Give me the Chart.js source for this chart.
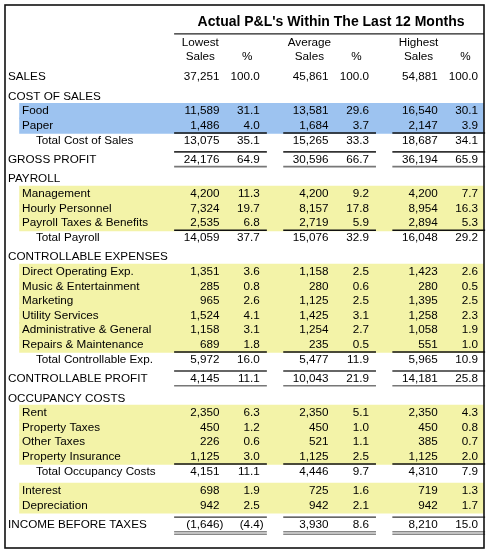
<!DOCTYPE html>
<html>
<head>
<meta charset="utf-8">
<title>Actual P&amp;L's Within The Last 12 Months</title>
<script src="https://cdn.jsdelivr.net/npm/chart.js@4.4.1/dist/chart.umd.min.js"></script>
<style>
  html, body { margin: 0; padding: 0; background: #fff; }
  #wrap { width: 491px; height: 555px; }
</style>
</head>
<body>
<div id="wrap"><canvas id="pl-table"></canvas></div>
<script>
var title = "Actual P&L's Within The Last 12 Months";
var groupNames = ['Lowest', 'Average', 'Highest'];
var colHeads = ['Sales', '%'];

var rowLabels = ['SALES', 'COST OF SALES', 'Food', 'Paper', 'Total Cost of Sales', 'GROSS PROFIT',
  'PAYROLL', 'Management', 'Hourly Personnel', 'Payroll Taxes & Benefits', 'Total Payroll',
  'CONTROLLABLE EXPENSES', 'Direct Operating Exp.', 'Music & Entertainment', 'Marketing',
  'Utility Services', 'Administrative & General', 'Repairs & Maintenance', 'Total Controllable Exp.',
  'CONTROLLABLE PROFIT', 'OCCUPANCY COSTS', 'Rent', 'Property Taxes', 'Other Taxes',
  'Property Insurance', 'Total Occupancy Costs', 'Interest', 'Depreciation', 'INCOME BEFORE TAXES'];
var rowKinds = ['line', 'section', 'item', 'item', 'total', 'profit',
  'section', 'item', 'item', 'item', 'total',
  'section', 'item', 'item', 'item', 'item', 'item', 'item', 'total',
  'profit', 'section', 'item', 'item', 'item', 'item', 'total', 'item', 'item', 'net'];

var lowestSales = [37251, null, 11589, 1486, 13075, 24176, null, 4200, 7324, 2535, 14059,
  null, 1351, 285, 965, 1524, 1158, 689, 5972, 4145, null, 2350, 450, 226, 1125, 4151, 698, 942, -1646];
var lowestPct = [100.0, null, 31.1, 4.0, 35.1, 64.9, null, 11.3, 19.7, 6.8, 37.7,
  null, 3.6, 0.8, 2.6, 4.1, 3.1, 1.8, 16.0, 11.1, null, 6.3, 1.2, 0.6, 3.0, 11.1, 1.9, 2.5, -4.4];
var averageSales = [45861, null, 13581, 1684, 15265, 30596, null, 4200, 8157, 2719, 15076,
  null, 1158, 280, 1125, 1425, 1254, 235, 5477, 10043, null, 2350, 450, 521, 1125, 4446, 725, 942, 3930];
var averagePct = [100.0, null, 29.6, 3.7, 33.3, 66.7, null, 9.2, 17.8, 5.9, 32.9,
  null, 2.5, 0.6, 2.5, 3.1, 2.7, 0.5, 11.9, 21.9, null, 5.1, 1.0, 1.1, 2.5, 9.7, 1.6, 2.1, 8.6];
var highestSales = [54881, null, 16540, 2147, 18687, 36194, null, 4200, 8954, 2894, 16048,
  null, 1423, 280, 1395, 1258, 1058, 551, 5965, 14181, null, 2350, 450, 385, 1125, 4310, 719, 942, 8210];
var highestPct = [100.0, null, 30.1, 3.9, 34.1, 65.9, null, 7.7, 16.3, 5.3, 29.2,
  null, 2.6, 0.5, 2.5, 2.3, 1.9, 1.0, 10.9, 25.8, null, 4.3, 0.8, 0.7, 2.0, 7.9, 1.3, 1.7, 15.0];

// scale units: x = one column group, y = one text line
var X_MIN = -1.55, X_MAX = 2.84;
var Y_MIN = -4.93, Y_MAX = 32.26;
var GAP = 1.335;
var BAND_X = -1.4125;
var BLUE = '#9dc3f0', YELLOW = '#f3f3a8';
var FONT = "'Liberation Sans', Arial, sans-serif";

// line position of every row (sections and profits get a little extra space)
var rowPos = [];
var pos = 0;
rowKinds.forEach(function (k, i) {
  if (i > 0) {
    var prev = rowKinds[i - 1];
    pos += (k === 'section' || k === 'profit' || k === 'net' || prev === 'total') ? GAP : 1;
  }
  rowPos.push(pos);
});

// shaded bands behind the detail lines
var bandData = [], bandColors = [];
var sectionNo = -1;
rowKinds.forEach(function (k, i) {
  if (k === 'section') sectionNo++;
  if (k === 'item') {
    bandData.push({ x: [BAND_X, X_MAX], y: rowPos[i] });
    bandColors.push(sectionNo === 0 ? BLUE : YELLOW);
  }
});

var columns = [
  { values: lowestSales, group: 0, pct: false },
  { values: lowestPct, group: 0, pct: true },
  { values: averageSales, group: 1, pct: false },
  { values: averagePct, group: 1, pct: true },
  { values: highestSales, group: 2, pct: false },
  { values: highestPct, group: 2, pct: true }
];

var datasets = [{
  type: 'bar',
  indexAxis: 'y',
  data: bandData,
  backgroundColor: bandColors,
  borderWidth: 0,
  inflateAmount: 0.8,
  barPercentage: 1,
  categoryPercentage: 1
}];
columns.forEach(function (c) {
  var pts = [];
  c.values.forEach(function (v, i) {
    if (v !== null) pts.push({ x: c.group + (c.pct ? 0.785 : 0.415), y: rowPos[i], v: v });
  });
  datasets.push({ type: 'scatter', data: pts, pointRadius: 0, pointHitRadius: 0, isColumn: true, pct: c.pct });
});

function fmt(v, pct) {
  var d = pct ? 1 : 0;
  return v.toLocaleString('en-US', { minimumFractionDigits: d, maximumFractionDigits: d });
}

var tablePlugin = {
  id: 'plTable',
  afterDatasetsDraw: function (chart) {
    var ctx = chart.ctx, a = chart.chartArea, xs = chart.scales.x, ys = chart.scales.y;
    function hline(x0, x1, yv, w, c) {
      ctx.beginPath();
      ctx.lineWidth = w;
      ctx.strokeStyle = c;
      var py = ys.getPixelForValue(yv);
      ctx.moveTo(xs.getPixelForValue(x0), py);
      ctx.lineTo(xs.getPixelForValue(x1), py);
      ctx.stroke();
    }
    function groupLines(yv, w, c) {
      for (var g = 0; g < groupNames.length; g++) hline(g, g + 0.85, yv, w, c);
    }
    ctx.save();
    ctx.fillStyle = '#000';
    ctx.textBaseline = 'middle';

    // title + header
    ctx.font = 'bold 14px ' + FONT;
    ctx.textAlign = 'center';
    ctx.fillText(title, xs.getPixelForValue(1.438), ys.getPixelForValue(-3.77));
    hline(0, X_MAX, -2.95, 1.3, '#222');
    ctx.font = '11.7px ' + FONT;
    groupNames.forEach(function (n, g) {
      ctx.fillText(n, xs.getPixelForValue(g + 0.24), ys.getPixelForValue(-2.33));
      ctx.fillText(colHeads[0], xs.getPixelForValue(g + 0.24), ys.getPixelForValue(-1.37));
      ctx.fillText(colHeads[1], xs.getPixelForValue(g + 0.67), ys.getPixelForValue(-1.37));
    });

    // row labels
    ctx.textAlign = 'left';
    rowLabels.forEach(function (lab, i) {
      var k = rowKinds[i];
      var lx = k === 'item' ? -1.394 : (k === 'total' ? -1.266 : -1.5225);
      ctx.fillText(lab, xs.getPixelForValue(lx), ys.getPixelForValue(rowPos[i]));
    });

    // numbers, placed at the scatter points
    chart.data.datasets.forEach(function (ds, di) {
      if (!ds.isColumn) return;
      var meta = chart.getDatasetMeta(di);
      meta.data.forEach(function (pt, j) {
        var v = ds.data[j].v;
        var s = fmt(Math.abs(v), ds.pct);
        ctx.textAlign = 'right';
        if (v < 0) {
          ctx.fillText('(' + s, pt.x, pt.y);
          ctx.textAlign = 'left';
          ctx.fillText(')', pt.x, pt.y);
        } else {
          ctx.fillText(s, pt.x, pt.y);
        }
      });
    });

    // rules
    rowKinds.forEach(function (k, i) {
      var p = rowPos[i];
      if (k === 'item' && rowKinds[i + 1] === 'total') groupLines(p + 0.5, 1.5, '#111');
      if (k === 'profit') {
        groupLines(p - 0.54, 1.6, '#333');
        groupLines(p + 0.47, 1.6, '#777');
      }
      if (k === 'net') {
        groupLines(p - 0.54, 1.2, '#333');
        groupLines(p + 0.47, 1.5, '#888');
        groupLines(p + 0.64, 1.5, '#888');
      }
    });

    // outer frame
    ctx.lineWidth = 1.6;
    ctx.strokeStyle = '#111';
    ctx.strokeRect(a.left, a.top, a.right - a.left, a.bottom - a.top);
    ctx.restore();
  }
};

new Chart(document.getElementById('pl-table'), {
  type: 'scatter',
  data: { datasets: datasets },
  options: {
    responsive: true,
    maintainAspectRatio: false,
    animation: false,
    events: [],
    layout: { padding: { left: 5, top: 5, right: 7, bottom: 7 } },
    plugins: { legend: { display: false }, tooltip: { enabled: false } },
    scales: {
      x: { type: 'linear', display: false, min: X_MIN, max: X_MAX, offset: false },
      y: { type: 'linear', display: false, reverse: true, min: Y_MIN, max: Y_MAX, offset: false,
        ticks: { stepSize: 10 } }
    }
  },
  plugins: [tablePlugin]
});
</script>
</body>
</html>
